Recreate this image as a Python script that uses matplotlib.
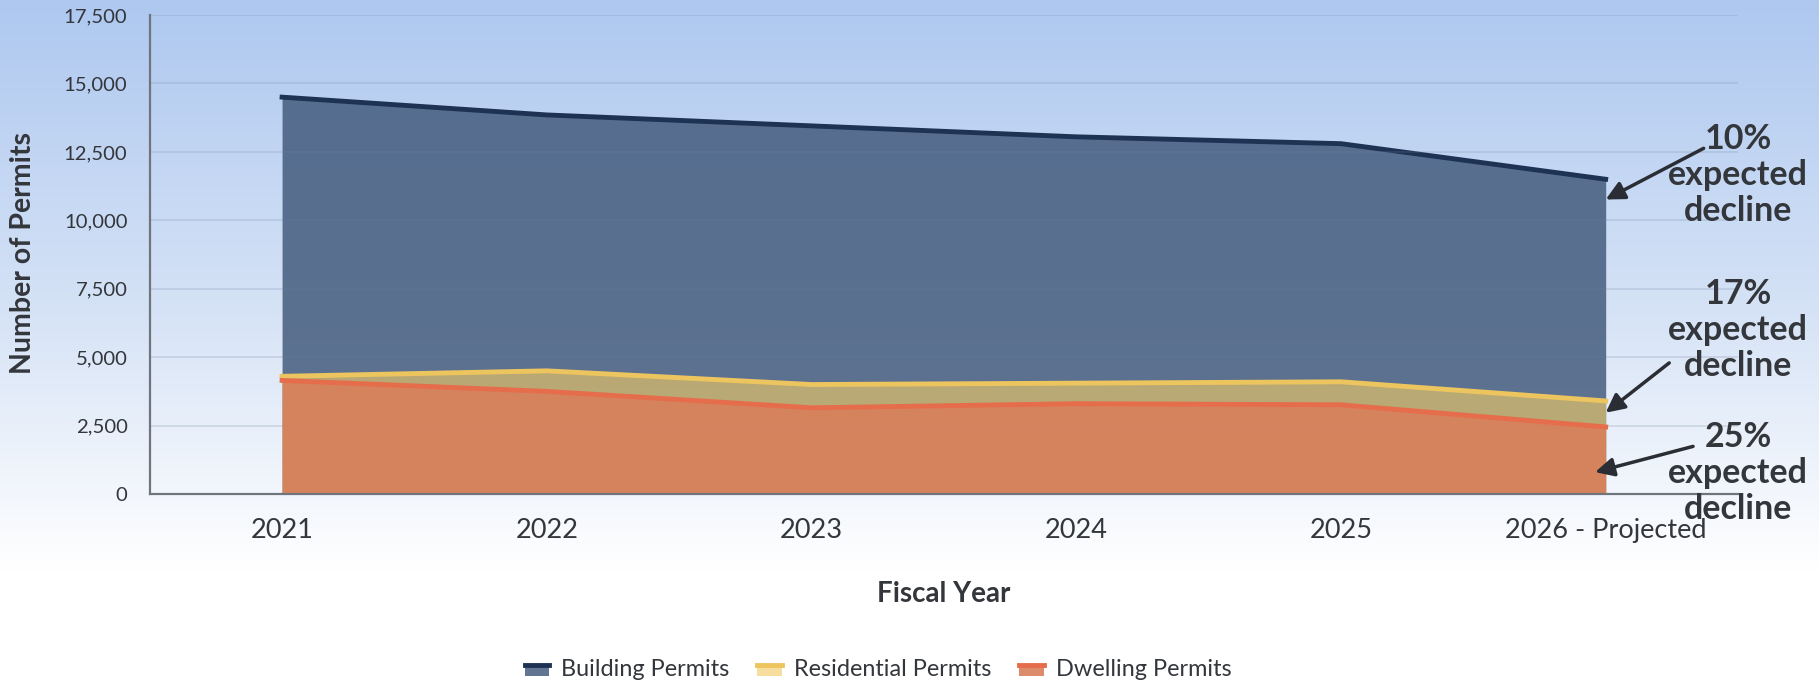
import numpy as np
import matplotlib
matplotlib.use("Agg")
import matplotlib.pyplot as plt
from matplotlib.patches import Patch, Rectangle
from matplotlib.lines import Line2D
from matplotlib.legend_handler import HandlerBase
from matplotlib.ticker import FuncFormatter, MultipleLocator

plt.rcParams['font.family'] = ['Lato', 'DejaVu Sans']

# ---- data ----
years = ["2021", "2022", "2023", "2024", "2025", "2026 - Projected"]
building = [14500, 13850, 13450, 13050, 12800, 11500]
residential = [4300, 4500, 4000, 4050, 4100, 3400]
dwelling = [4150, 3750, 3150, 3300, 3260, 2450]
series_names = ["Building Permits", "Residential Permits", "Dwelling Permits"]
notes = ["10%\nexpected\ndecline", "17%\nexpected\ndecline", "25%\nexpected\ndecline"]

# ---- styles ----
line_cols = ["#1e3354", "#ecc55f", "#e66d4c"]
fill_cols = ["#3f5779", "#f3cb64", "#d97f5b"]
fill_alpha = [0.82, 0.62, 0.9]
txt_col = "#33363b"

fig = plt.figure(figsize=(18.19, 6.83), dpi=100)

# background gradient
bg = fig.add_axes([0, 0, 1, 1], zorder=-10)
bg.axis("off")
h = 683
top = np.array([174, 200, 240]) / 255.0
mid = np.array([214, 227, 246]) / 255.0
white = np.array([1.0, 1.0, 1.0])
grad = np.zeros((h, 1, 3))
for i in range(h):
    f = i / 570.0
    if f >= 1:
        c = white
    elif f < 0.55:
        c = top + (mid - top) * (f / 0.55)
    else:
        c = mid + (white - mid) * ((f - 0.55) / 0.45)
    grad[i, 0] = c
bg.imshow(grad, aspect="auto", extent=[0, 1, 0, 1])
bg.set_xlim(0, 1)
bg.set_ylim(0, 1)

ax = fig.add_axes([0.0823, 0.2767, 0.8732, 0.7013])
ax.patch.set_alpha(0)
x = np.arange(len(years))

for vals, lc, fc, fa, z in zip([building, residential, dwelling], line_cols, fill_cols, fill_alpha, [1, 2, 3]):
    ax.fill_between(x, 0, vals, color=fc, alpha=fa, lw=0, zorder=z)
    ax.plot(x, vals, color=lc, lw=3.5, zorder=z + 0.5, solid_joinstyle="round")

ax.set_xlim(-0.5, len(years) - 0.5)
ax.set_ylim(0, 17500)
ax.yaxis.set_major_locator(MultipleLocator(2500))
ax.yaxis.set_major_formatter(FuncFormatter(lambda v, p: f"{int(v):,}"))
ax.set_xticks(x)
ax.set_xticklabels(years)
ax.grid(axis="y", color="#6f7f99", alpha=0.22, lw=1.2, zorder=5)
ax.set_axisbelow(False)
ax.tick_params(axis="both", length=0, colors=txt_col)
ax.tick_params(axis="x", labelsize=19.5, pad=17)
ax.tick_params(axis="y", labelsize=14.6, pad=16)
for s in ["top", "right"]:
    ax.spines[s].set_visible(False)
for s in ["left", "bottom"]:
    ax.spines[s].set_color("#70757d")
    ax.spines[s].set_linewidth(1.6)
    ax.spines[s].set_zorder(6)

fig.text(23 / 1819, 1 - 253 / 683, "Number of Permits", rotation=90, ha="center", va="center",
         fontsize=20.5, fontweight="bold", color=txt_col)
fig.text(944 / 1819, 1 - 594 / 683, "Fiscal Year", ha="center", va="center",
         fontsize=20, fontweight="bold", color=txt_col)

# annotations (text + arrows)
note_y = [11650, 6000, 760]
arrow_tail = [(5.37, 12630), (5.24, 4790), (5.33, 1740)]
arrow_tip = [(5.0, 10760), (5.0, 2970), (4.96, 800)]
for note, ny, tail, tip in zip(notes, note_y, arrow_tail, arrow_tip):
    ax.text(5.5, ny, note, ha="center", va="center", fontsize=24.5, fontweight="bold",
            color=txt_col, linespacing=1.15, zorder=10, clip_on=False)
    ax.annotate("", xy=tip, xytext=tail, xycoords="data", textcoords="data",
                arrowprops=dict(arrowstyle="-|>", color="#2a2d33", lw=2.5, mutation_scale=28,
                                shrinkA=0, shrinkB=0),
                annotation_clip=False, zorder=10)


class AreaHandler(HandlerBase):
    def create_artists(self, legend, orig_handle, xdescent, ydescent, width, height, fontsize, trans):
        r = Rectangle((-xdescent, -ydescent + 0.05 * height), width, height * 0.65,
                      facecolor=orig_handle.get_facecolor(), edgecolor="none", transform=trans)
        l = Line2D([-xdescent, -xdescent + width], [-ydescent + 0.7 * height] * 2,
                   color=orig_handle.get_edgecolor(), lw=3.5, transform=trans)
        return [r, l]


handles = [Patch(facecolor=matplotlib.colors.to_rgba(fc, fa), edgecolor=lc)
           for fc, fa, lc in zip(fill_cols, fill_alpha, line_cols)]
leg = fig.legend(handles, series_names, loc="center", bbox_to_anchor=(878 / 1819, 1 - 670 / 683),
                 ncol=3, frameon=False, fontsize=16.9, handler_map={Patch: AreaHandler()},
                 handlelength=1.05, handleheight=0.7, handletextpad=0.5, columnspacing=1.2)
for tx in leg.get_texts():
    tx.set_color(txt_col)

fig.savefig("out.png", dpi=100)
